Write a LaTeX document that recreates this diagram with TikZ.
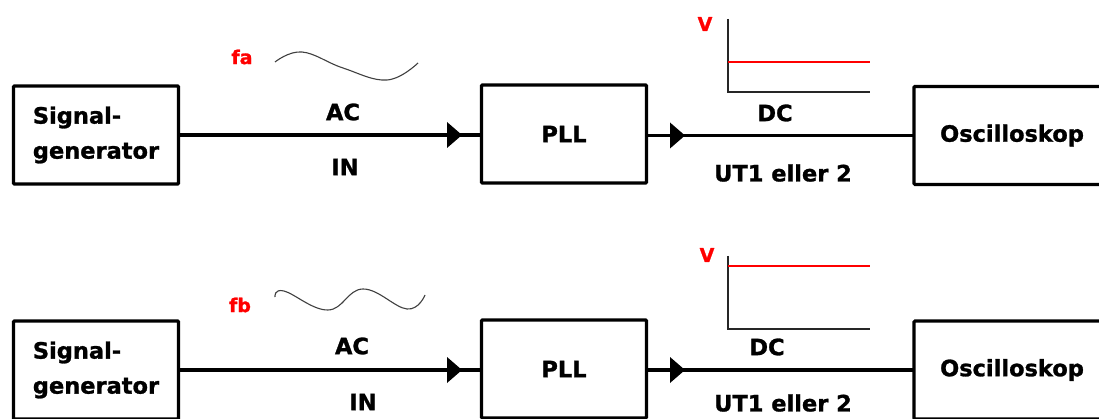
\documentclass[tikz,border=0pt]{standalone}
\usepackage{fontspec}
\setmainfont{DejaVu Sans}[BoldFeatures={FakeBold=1.2}]
\usetikzlibrary{decorations.markings}
\begin{document}
\begin{tikzpicture}[x=1pt,y=-1pt,
  blk/.style={draw=black, line width=3.2pt, rounded corners=1pt, minimum height=98pt,
    inner sep=0pt, outer sep=0pt, font=\bfseries\fontsize{22.5}{35}\selectfont},
  lbl/.style={font=\bfseries\fontsize{22.5}{27}\selectfont, inner sep=0pt},
  rlbl/.style={font=\bfseries\fontsize{19}{23}\selectfont, text=red, inner sep=0pt},
  wire/.style={line width=3.2pt},
  tipat/.style={postaction={decorate, decoration={markings,
    mark=at position #1 with {\fill (-15pt,13pt) -- (0pt,0pt) -- (-15pt,-13pt) -- cycle;}}}},
  axis/.style={line width=1.6pt, black!85},
  level/.style={line width=2pt, red},
  wave/.style={line width=1.1pt, black!75}
]
\clip (0,0) rectangle (1099,419);
\fill[white] (0,0) rectangle (1099,419);

% ---------- top row ----------
\node[blk, minimum width=165pt, align=left] (sg1) at (96,135) {Signal-\\generator};
\node[blk, minimum width=165pt] (pll1) at (564,134) {PLL};
\node[blk, minimum width=196pt] (osc1) at (1012,135.5) {Oscilloskop};
\draw[wire, tipat=283.5pt] (sg1.east) -- (sg1.east -| pll1.west);
\draw[wire, tipat=38.5pt] (pll1.east |- osc1.west) -- (osc1.west);

\node[lbl] (ac1) at (343,112) {AC};
\node[lbl] (in1) at (345,167) {IN};
\node[lbl] (dc1) at (775,113) {DC};
\node[lbl] (ut1) at (783,173) {UT1 eller 2};
\node[rlbl] (fa) at (242,57) {fa};
\node[rlbl] (v1) at (705,24) {V};

\draw[wave] plot[smooth, tension=0.7] coordinates {(275,62) (302,52) (343,68) (387,80) (418,63)};
\draw[axis] (728,19) -- (728,92) -- (870,92);
\draw[level] (728,62) -- (870,62);

% ---------- bottom row ----------
\node[blk, minimum width=165pt, align=left] (sg2) at (96,370) {Signal-\\generator};
\node[blk, minimum width=165pt] (pll2) at (564,369) {PLL};
\node[blk, minimum width=196pt] (osc2) at (1012,370) {Oscilloskop};
\draw[wire, tipat=283.5pt] (sg2.east) -- (sg2.east -| pll2.west);
\draw[wire, tipat=38.5pt] (pll2.east |- osc2.west) -- (osc2.west);

\node[lbl] (ac2) at (352,346) {AC};
\node[lbl] (in2) at (363,402) {IN};
\node[lbl] (dc2) at (767,347) {DC};
\node[lbl] (ut2) at (783,403) {UT1 eller 2};
\node[rlbl] (fb) at (240,305) {fb};
\node[rlbl] (v2) at (707,255) {V};

\draw[wave] plot[smooth, tension=0.7] coordinates {(275,297) (284,291) (328,310) (363,289) (407,309) (425,295)};
\draw[axis] (728,256) -- (728,329) -- (870,329);
\draw[level] (728,266) -- (870,266);
\end{tikzpicture}
\end{document}
